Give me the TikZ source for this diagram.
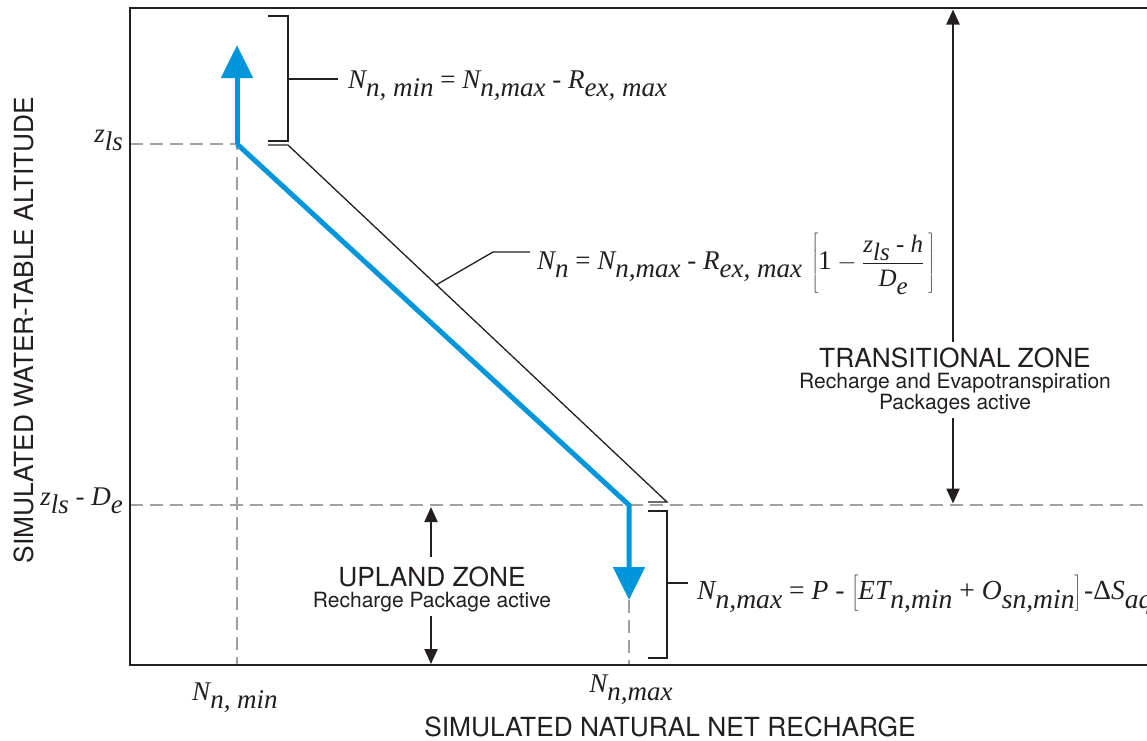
\documentclass[tikz,border=0pt]{standalone}
\usepackage{fontspec}
\setmainfont{Liberation Serif}
\newfontfamily\hv{TeX Gyre Heros}
\usetikzlibrary{arrows.meta}
\definecolor{flowblue}{RGB}{0,150,220}
\definecolor{dashgray}{RGB}{160,160,164}
\definecolor{ink}{RGB}{35,31,32}
\newcommand{\lo}[1]{\raisebox{-0.33em}{#1}}
\newcommand{\eqsize}{\fontsize{27}{30}\selectfont}
\newcommand{\bigeqsize}{\fontsize{27.6}{30}\selectfont}
\newcommand{\fracsize}{\fontsize{25}{27}\selectfont}
\begin{document}
\begin{tikzpicture}[x=1pt,y=-1pt,
  frame/.style={draw=ink,line width=1.6pt},
  guide/.style={draw=dashgray,line width=2.7pt,dash pattern=on 13pt off 7pt},
  flow/.style={draw=flowblue,line width=5pt},
  flowtip/.style={-{Triangle[length=33pt,width=31pt]}},
  thinline/.style={draw=ink,line width=1.3pt},
  zonearrow/.style={draw=ink,line width=2.2pt,-{Triangle[length=15pt,width=13pt]}},
  eq/.style={font=\eqsize\itshape,text=ink,inner sep=0pt,anchor=base west},
  tick/.style={font=\eqsize\itshape,text=ink,inner sep=0pt},
  lab/.style={font=\hv\fontsize{26.3}{30}\selectfont,text=ink,inner sep=0pt,anchor=base},
  sublab/.style={font=\hv\fontsize{21}{24}\selectfont,text=ink,inner sep=0pt,anchor=base},
]
\useasboundingbox (0,0) rectangle (1147,740);

% key points
\coordinate (tl) at (130,8);
\coordinate (bl) at (130,665);
\coordinate (tr) at (1147,8);
\coordinate (br) at (1147,665);
\coordinate (zls) at (130,144);
\coordinate (zde) at (130,505);
\coordinate (zdeR) at (1147,505);
\coordinate (p1) at (237,144);
\coordinate (p2) at (629,505);
\coordinate (nminb) at (237,665);
\coordinate (nmaxb) at (629,665);
\coordinate (uptip) at (237,45);
\coordinate (dntip) at (629,600);

% dashed guides
\draw[guide] (zls) -- (p1) -- (nminb);
\draw[guide] (zde) -- (zdeR);
\draw[guide] (dntip) -- (nmaxb);

% frame
\draw[frame] (tr) -- (tl) -- (bl) -- (br);

% blue path
\draw[flow,flowtip] (p1) -- (uptip);
\draw[flow,flowtip,line join=miter] (p1) -- (p2) -- (dntip);

% top bracket and equation
\node[eq] (eqmin) at (348,88) {N\lo{n, min} {\upshape =} N\lo{n,max} {\upshape -} R\lo{ex, max}};
\coordinate (b1a) at (268,16);
\coordinate (b1b) at (288,16);
\coordinate (b1c) at (288,141);
\coordinate (b1d) at (268,141);
\coordinate (b1m) at (288,79);
\coordinate (b1e) at (338,79);
\draw[thinline] (b1a) -- (b1b) -- (b1c) -- (b1d);
\draw[thinline] (b1m) -- (b1e);

% parallel band line
\coordinate (d0) at (268,145);
\coordinate (d1) at (288,145);
\coordinate (d2) at (667,502);
\coordinate (d3) at (648,502);
\draw[thinline] (d0) -- (d1) -- (d2) -- (d3);

% middle equation with leader
\node[eq] (eqn) at (537,269) {N\lo{n} {\upshape =} N\lo{n,max} {\upshape -} R\lo{ex, max}\hspace{0.35em}$\displaystyle\left[\mbox{\upshape 1}-\frac{\mbox{\fracsize z\lo{ls} {\upshape -} h}}{\mbox{\fracsize D\lo{e}}}\,\right]$};
\coordinate (l0) at (436,285);
\coordinate (l1) at (493,252);
\coordinate (l2) at (530,252);
\draw[thinline] (l0) -- (l1) -- (l2);

% bottom bracket and equation
\coordinate (b2a) at (648,511);
\coordinate (b2b) at (667,511);
\coordinate (b2c) at (667,658);
\coordinate (b2d) at (648,658);
\coordinate (b2m) at (667,583);
\coordinate (b2e) at (688,583);
\draw[thinline] (b2a) -- (b2b) -- (b2c) -- (b2d);
\draw[thinline] (b2m) -- (b2e);
\node[eq,font=\bigeqsize\itshape] (eqmax) at (697,599) {N\lo{n,max} {\upshape =} P {\upshape -} $\left[\mbox{ET\lo{n,min} {\upshape +} O\lo{sn,min}}\right]$\hspace{0.1em}{\upshape -Δ}S\lo{aq}};

% transitional zone
\node[lab] (ttitle) at (955,367) {TRANSITIONAL ZONE};
\node[sublab] (tsub1) at (955,388) {Recharge and Evapotranspiration};
\node[sublab] (tsub2) at (955,409) {Packages active};
\coordinate (ta0) at (953,342);
\coordinate (ta1) at (953,9.5);
\coordinate (tb0) at (953,418);
\coordinate (tb1) at (953,503.5);
\draw[zonearrow] (ta0) -- (ta1);
\draw[zonearrow] (tb0) -- (tb1);

% upland zone
\node[lab] (utitle) at (432,586) {UPLAND ZONE};
\node[sublab] (usub) at (432,607) {Recharge Package active};
\coordinate (ua0) at (431,557);
\coordinate (ua1) at (431,507);
\coordinate (ub0) at (431,616);
\coordinate (ub1) at (431,664);
\draw[zonearrow] (ua0) -- (ua1);
\draw[zonearrow] (ub0) -- (ub1);

% tick labels
\node[tick,anchor=base east] (tzls) at (123,142) {z\lo{ls}};
\node[tick,anchor=base east] (tzde) at (123,505) {z\lo{ls} {\upshape -} D\lo{e}};
\node[tick,anchor=base] (tnmin) at (235,700) {N\lo{n, min}};
\node[tick,anchor=base] (tnmax) at (631,692) {N\lo{n,max}};

% axis labels
\node[lab] (xlab) at (670,736) {SIMULATED NATURAL NET RECHARGE};
\node[lab,rotate=90] (ylab) at (33,330) {SIMULATED WATER-TABLE ALTITUDE};
\end{tikzpicture}
\end{document}
